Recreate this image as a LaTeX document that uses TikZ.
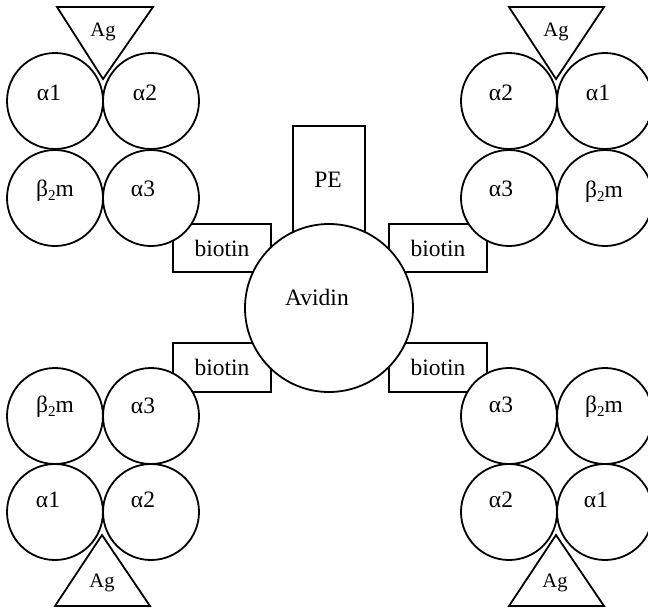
\documentclass[tikz,border=0pt]{standalone}
\usepackage{fontspec}
\setmainfont{Liberation Serif}
\begin{document}
\begin{tikzpicture}[x=1pt,y=-1pt,line width=1.8pt,
  dom/.style={circle,draw,fill=white,minimum size=96pt,inner sep=0pt},
  lbl/.style={font=\fontsize{23.5}{23.5}\selectfont,inner sep=0pt},
  aglbl/.style={font=\fontsize{20.5}{20.5}\selectfont,inner sep=0pt},
  linker/.style={draw,fill=white}]
\useasboundingbox (0,0) rectangle (648,611);
\clip (0,0) rectangle (648,611);
\newcommand{\btm}{β\raisebox{-0.3ex}{\fontsize{15}{15}\selectfont 2}m}
% PE and biotin boxes (behind)
\draw[linker] (293,126) rectangle (365,270);
\draw[linker] (173,224) rectangle (271,272);
\draw[linker] (389,224) rectangle (487,272);
\draw[linker] (173,343) rectangle (271,392);
\draw[linker] (389,343) rectangle (487,392);
\node[lbl] (pe) at (328,180) {PE};
\node[lbl] (b1) at (222,248) {biotin};
\node[lbl] (b2) at (438,248) {biotin};
\node[lbl] (b3) at (222,367) {biotin};
\node[lbl] (b4) at (438,367) {biotin};
% Avidin
\node[circle,draw,fill=white,minimum size=168pt,inner sep=0pt] (av) at (329,308) {};
\node[lbl] (avt) at (317,297) {Avidin};
% top-left MHC
\node[dom] (tl1) at (55,101) {};
\node[dom] (tl2) at (151,101) {};
\node[dom] (tl3) at (55,198) {};
\node[dom] (tl4) at (151,198) {};
\node[lbl] at (49,93) {α1};
\node[lbl] at (145,93) {α2};
\node[lbl] at (55,191) {\btm};
\node[lbl] at (143,189) {α3};
\draw (57,7) -- (153,7) -- (103,79) -- cycle;
\node[aglbl] (ag1) at (103,32) {Ag};
% top-right MHC
\node[dom] (tr2) at (509,101) {};
\node[dom] (tr1) at (605,101) {};
\node[dom] (tr3) at (509,198) {};
\node[dom] (tr4) at (605,198) {};
\node[lbl] at (501,93) {α2};
\node[lbl] at (598,93) {α1};
\node[lbl] at (501,189) {α3};
\node[lbl] at (604,192) {\btm};
\draw (509,7) -- (604,7) -- (556,79) -- cycle;
\node[aglbl] (ag2) at (556,32) {Ag};
% bottom-left MHC
\node[dom] (bl3) at (55,416) {};
\node[dom] (bl4) at (151,416) {};
\node[dom] (bl1) at (55,512) {};
\node[dom] (bl2) at (151,512) {};
\node[lbl] at (55,407) {\btm};
\node[lbl] at (143,406) {α3};
\node[lbl] at (48,500) {α1};
\node[lbl] at (143,500) {α2};
\draw (55,606) -- (150,606) -- (102,535) -- cycle;
\node[aglbl] (ag3) at (102,583) {Ag};
% bottom-right MHC
\node[dom] (br4) at (509,416) {};
\node[dom] (br3) at (605,416) {};
\node[dom] (br2) at (509,512) {};
\node[dom] (br1) at (605,512) {};
\node[lbl] at (501,405) {α3};
\node[lbl] at (604,407) {\btm};
\node[lbl] at (501,500) {α2};
\node[lbl] at (596,500) {α1};
\draw (509,606) -- (604,606) -- (556,535) -- cycle;
\node[aglbl] (ag4) at (555,583) {Ag};
\end{tikzpicture}
\end{document}
